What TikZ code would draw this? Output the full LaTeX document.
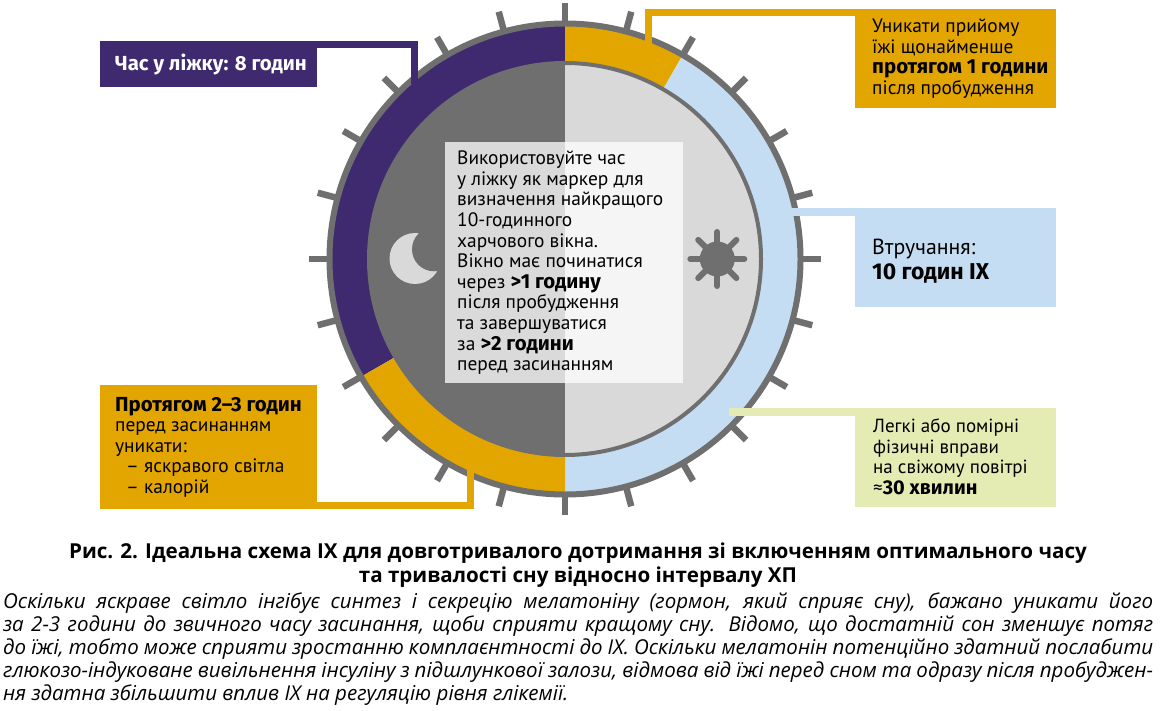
\documentclass[tikz,border=0pt]{standalone}
\usepackage{fontspec}
\setmainfont{PT Sans}[BoldFont={Fira Sans Bold}, BoldFeatures={Scale=1.05}]
\newfontfamily\capfont{Open Sans}
\usetikzlibrary{calc}
\definecolor{nightnavy}{HTML}{3F2A6F}
\definecolor{mealgold}{HTML}{E3A600}
\definecolor{daysky}{HTML}{C5DDF2}
\definecolor{walkgreen}{HTML}{E4EBB3}
\definecolor{dkgray}{HTML}{6F6F6F}
\definecolor{ltgray}{HTML}{D9D9D9}

\begin{document}
\begin{tikzpicture}[
  x=1pt, y=-1pt,
  notebox/.style={
    fill=#1, minimum width=201pt, minimum height=99pt, anchor=north west, inner sep=0pt
  },
  sidebox/.style={notebox=#1, minimum width=217pt},
  notetext/.style={
    anchor=west, inner sep=0pt, align=left, text=black,
    font=\fontsize{19.4}{20.5}\selectfont
  },
  leader/.style={draw=#1, line width=7pt},
  tickmark/.style={draw=dkgray, line width=6.5pt},
  rimline/.style={draw=dkgray, line width=#1},
  sunray/.style={draw=dkgray, line width=6pt, line cap=round},
]

\useasboundingbox (0,0) rectangle (1161,711);

% ============================================================
% Clock face
% ============================================================
\coordinate (clock) at (565,259);

% --- Ticks, one per hour ---
\foreach \hour in {0,15,...,345}
  \draw[tickmark] ($(clock)+(\hour:232pt)$) -- ($(clock)+(\hour:256pt)$);

% --- Ring sectors ---
\fill[nightnavy] (clock) -- ($(clock)+(90:235pt)$)
  arc[start angle=90, end angle=210, radius=235pt] -- cycle;
\fill[mealgold] (clock) -- ($(clock)+(90:235pt)$)
  arc[start angle=90, end angle=60, radius=235pt] -- cycle;
\fill[daysky] (clock) -- ($(clock)+(60:235pt)$)
  arc[start angle=60, end angle=-90, radius=235pt] -- cycle;
\fill[mealgold] (clock) -- ($(clock)+(-90:235pt)$)
  arc[start angle=-90, end angle=-150, radius=235pt] -- cycle;

% --- Night and day halves ---
\fill[dkgray] ($(clock)+(90:196pt)$)
  arc[start angle=90, end angle=270, radius=196pt] -- cycle;
\fill[ltgray] ($(clock)+(90:196pt)$)
  arc[start angle=90, end angle=-90, radius=196pt] -- cycle;

\draw[rimline=6pt] (clock) circle[radius=235.5pt];
\draw[rimline=4pt] (clock) circle[radius=196pt];

% --- Moon ---
\fill[ltgray] (415,258.5) circle[radius=25.5pt];
\fill[dkgray] (434,249.3) circle[radius=22pt];

% --- Sun ---
\fill[dkgray] (717.3,259) circle[radius=17.5pt];
\foreach \ray in {0,45,...,315}
  \draw[sunray] ($(717.3,259)+(\ray:15pt)$) -- ($(717.3,259)+(\ray:27pt)$);

% ============================================================
% Boxes
% ============================================================
\node[fill=white, fill opacity=0.75, anchor=north west, inner sep=0pt,
      minimum width=238pt, minimum height=241pt] (windowbox) at (445,142) {};
\node[notetext, font=\fontsize{19.4}{20.6}\selectfont] (windowtext)
  at ([xshift=12pt]windowbox.west)
  {Використовуйте час\\
   у ліжку як маркер для\\
   визначення найкращого\\
   10-годинного\\
   харчового вікна.\\
   Вікно має починатися\\
   через \textbf{>1 годину}\\
   після пробудження\\
   та завершуватися\\
   за \textbf{>2 години}\\
   перед засинанням};

% --- Left side ---
\node[sidebox=nightnavy, minimum height=46pt] (sleepbox) at (100,41) {};
\node[notetext, text=white, font=\fontsize{19.4}{20.5}\selectfont\bfseries] (sleeptext)
  at ([xshift=15pt]sleepbox.west)
  {Час у ліжку: 8 годин};

\node[sidebox=mealgold, minimum height=124pt] (eveningbox) at (100,385) {};
\node[notetext] (eveningtext) at ([xshift=15pt]eveningbox.west)
  {\textbf{Протягом 2--3 годин}\\
   перед засинанням\\
   уникати:\\
   \hspace*{11pt}-- яскравого світла\\
   \hspace*{11pt}-- калорій};

% --- Right side ---
\node[notebox=mealgold] (wakebox) at (855,9) {};
\node[notetext] (waketext) at ([xshift=17pt]wakebox.west)
  {Уникати прийому\\
   їжі щонайменше\\
   \textbf{протягом 1 години}\\
   після пробудження};

\node[notebox=daysky] (fastbox) at (855,208) {};
\node[notetext, font=\fontsize{21.8}{25.5}\selectfont] (fasttext)
  at ([xshift=17pt,yshift=-3.5pt]fastbox.west)
  {Втручання:\\
   \textbf{10 годин ІХ}};

\node[notebox=walkgreen] (walkbox) at (855,408) {};
\node[notetext, font=\fontsize{19}{20.5}\selectfont] (walktext)
  at ([xshift=18pt,yshift=1pt]walkbox.west)
  {Легкі або помірні\\
   фізичні вправи\\
   на свіжому повітрі\\
   ≈\textbf{30 хвилин}};

% ============================================================
% Leaders from boxes to the ring
% ============================================================
\coordinate (sleepend) at (414.5,84);
\coordinate (wakeend) at (648.5,44);
\coordinate (fastend) at (790,212);
\coordinate (walkend) at (729,412);
\coordinate (eveningend) at (470.5,470);

\draw[leader=nightnavy] ([yshift=-3.5pt]sleepbox.north east) -| (sleepend);
\draw[leader=mealgold] ([yshift=-3.5pt]wakebox.north west) -| (wakeend);
\draw[leader=daysky, line width=8pt] ([yshift=-4pt]fastbox.north west) -- (fastend);
\draw[leader=walkgreen, line width=8pt] ([yshift=-4pt]walkbox.north west) -- (walkend);
\draw[leader=mealgold] ([yshift=3.5pt]eveningbox.south east) -| (eveningend);

% ============================================================
% Caption
% ============================================================
\node[font=\capfont\bfseries\fontsize{20.6}{24}\selectfont, align=center] (figtitle) at (578,565)
  {Рис. 2. Ідеальна схема ІХ для довготривалого дотримання зі включенням оптимального часу\\
   та тривалості сну відносно інтервалу ХП};

\node[font=\capfont\itshape\fontsize{20.5}{23}\selectfont, anchor=north west, inner sep=0pt,
      text width=1150pt, align=justify] (figtext) at (3,593)
  {Оскільки яскраве світло інгібує синтез і секрецію мелатоніну (гормон, який сприяє сну), бажано уникати його\linebreak
   за 2-3 години до звичного часу засинання, щоби сприяти кращому сну. Відомо, що достатній сон зменшує потяг\linebreak
   до їжі, тобто може сприяти зростанню комплаєнтності до ІХ. Оскільки мелатонін потенційно здатний послабити\linebreak
   глюкозо-індуковане вивільнення інсуліну з підшлункової залози, відмова від їжі перед сном та одразу після пробуджен-\linebreak
   ня здатна збільшити вплив ІХ на регуляцію рівня глікемії.};

\end{tikzpicture}
\end{document}
